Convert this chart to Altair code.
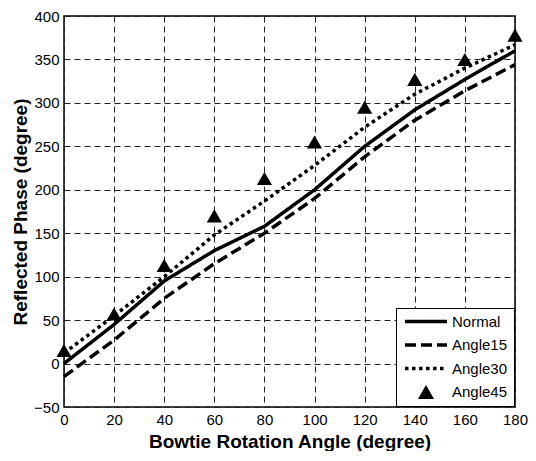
import altair as alt
import pandas as pd

angles = [0, 20, 40, 60, 80, 100, 120, 140, 160, 180]
normal = [0, 45, 95, 130, 158, 200, 250, 292, 327, 360]
angle15 = [-15, 27, 75, 115, 150, 190, 238, 280, 314, 344]
angle30 = [12, 55, 100, 148, 187, 228, 272, 310, 340, 367]
angle45 = [15, 57, 113, 170, 213, 255, 295, 327, 350, 378]
series_names = ["Normal", "Angle15", "Angle30", "Angle45"]
x_ticks = [0, 20, 40, 60, 80, 100, 120, 140, 160, 180]
y_ticks = [-50, 0, 50, 100, 150, 200, 250, 300, 350, 400]

rows = []
for name, vals in zip(series_names[:3], [normal, angle15, angle30]):
    for a, v in zip(angles, vals):
        rows.append({"angle": a, "phase": v, "series": name})
lines_df = pd.DataFrame(rows)
pts_df = pd.DataFrame({"angle": angles, "phase": angle45, "series": "Angle45"})

FONT = "Liberation Sans"

x_enc = alt.X(
    "angle:Q",
    scale=alt.Scale(domain=[0, 180], nice=False, zero=False),
    axis=alt.Axis(values=x_ticks, title="Bowtie Rotation Angle (degree)", format="d"),
)
y_enc = alt.Y(
    "phase:Q",
    scale=alt.Scale(domain=[-50, 400], nice=False, zero=False),
    axis=alt.Axis(values=y_ticks, title="Reflected Phase (degree)", format="d"),
)

legend = alt.Legend(
    title=None,
    orient="bottom-right",
    offset=1,
    padding=6,
    strokeColor="black",
    fillColor="white",
    labelFont=FONT,
    labelFontSize=15,
    labelColor="black",
    symbolType={"expr": "datum.value === 'Angle45' ? 'triangle-up' : 'M-4,0H4'"},
    symbolSize={"expr": "datum.value === 'Angle45' ? 260 : 110"},
    symbolFillColor={"expr": "datum.value === 'Angle45' ? 'black' : 'transparent'"},
    symbolStrokeWidth={"expr": "datum.value === 'Angle45' ? 0 : 3.5"},
    symbolStrokeColor="black",
    symbolOffset=16.5,
    rowPadding=7.5,
    labelOffset=18.5,
)

lines = alt.Chart(lines_df).mark_line(color="black", strokeWidth=3.5).encode(
    x=x_enc,
    y=y_enc,
    strokeDash=alt.StrokeDash(
        "series:N",
        scale=alt.Scale(
            domain=series_names,
            range=[[1, 0], [11, 5], [3.5, 3.5], [1, 0]],
        ),
        legend=legend,
    ),
    detail="series:N",
)

points = alt.Chart(pts_df).mark_point(
    shape="triangle-up", filled=True, color="black", size=230, opacity=1
).encode(x="angle:Q", y="phase:Q")

chart = (
    alt.layer(lines, points)
    .properties(
        width=451,
        height=391,
        padding={"left": 56, "top": 8, "right": 13, "bottom": 44},
        autosize=alt.AutoSizeParams(type="none"),
    )
    .configure_view(stroke="black", strokeWidth=1.5)
    .configure_axis(
        domain=False,
        ticks=False,
        grid=True,
        gridColor="#222222",
        gridDash=[6, 4],
        gridWidth=1,
        gridOpacity=1,
        labelFont=FONT,
        labelFontSize=15,
        labelColor="black",
        labelPadding=5,
        titleFont=FONT,
        titleFontSize=19,
        titleFontWeight="bold",
        titleColor="black",
    )
    .configure_axisX(titlePadding=5, labelFlush=False)
    .configure_axisY(titlePadding=3, labelFlush=False)
)

chart.save("out.html", embed_options={"renderer": "svg", "actions": False})
